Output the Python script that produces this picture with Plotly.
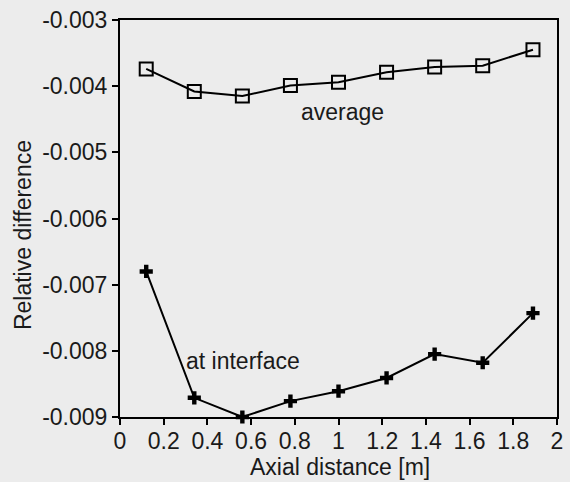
import plotly.graph_objects as go

# Data
axial_distance = [0.12, 0.34, 0.56, 0.78, 1.00, 1.22, 1.44, 1.66, 1.89]
average = [-0.00374, -0.00408, -0.00415, -0.00399, -0.00394, -0.00379, -0.00371, -0.00369, -0.00345]
at_interface = [-0.00680, -0.00871, -0.00900, -0.00876, -0.00861, -0.00841, -0.00805, -0.00818, -0.00743]

x_tickvals = [0, 0.2, 0.4, 0.6, 0.8, 1.0, 1.2, 1.4, 1.6, 1.8, 2.0]
x_ticktext = ["0", "0.2", "0.4", "0.6", "0.8", "1", "1.2", "1.4", "1.6", "1.8", "2"]
y_tickvals = [-0.009, -0.008, -0.007, -0.006, -0.005, -0.004, -0.003]
y_ticktext = ["-0.009", "-0.008", "-0.007", "-0.006", "-0.005", "-0.004", "-0.003"]

FONT = "Liberation Sans, Arial, Helvetica, sans-serif"
BG = "#ececec"
TXT = "#1a1a1a"

fig = go.Figure()
fig.add_trace(go.Scatter(
    x=axial_distance, y=average, mode="lines+markers",
    line=dict(color="black", width=2),
    marker=dict(symbol="square-open", size=13, color="black", line=dict(width=2, color="black")),
    cliponaxis=False, showlegend=False))
fig.add_trace(go.Scatter(
    x=axial_distance, y=at_interface, mode="lines+markers",
    line=dict(color="black", width=2),
    marker=dict(symbol="cross", size=11, color="black", line=dict(width=0)),
    cliponaxis=False, showlegend=False))

axis_common = dict(showgrid=False, zeroline=False, showline=True, linecolor="black",
                   linewidth=2, mirror=True, ticks="outside", ticklen=6, tickwidth=2,
                   tickcolor="black", tickfont=dict(family=FONT, size=23, color=TXT))

fig.update_xaxes(range=[0, 2], tickmode="array", tickvals=x_tickvals, ticktext=x_ticktext,
                 ticklabelstandoff=-4, **axis_common)
fig.update_yaxes(range=[-0.009, -0.003], tickmode="array", tickvals=y_tickvals, ticktext=y_ticktext,
                 **axis_common)

fig.add_annotation(x=1.02, y=-0.004395, text="average", showarrow=False,
                   xanchor="center", yanchor="middle", font=dict(family=FONT, size=23, color=TXT))
fig.add_annotation(x=0.292, y=-0.008161, text="at interface", showarrow=False,
                   xanchor="left", yanchor="middle", font=dict(family=FONT, size=23, color=TXT))
fig.add_annotation(xref="paper", yref="paper", x=0.503, y=-0.127, text="Axial distance [m]",
                   showarrow=False, xanchor="center", yanchor="middle",
                   font=dict(family=FONT, size=23, color=TXT))
fig.add_annotation(xref="paper", yref="paper", x=-0.2235, y=0.459, text="Relative difference",
                   textangle=-90, showarrow=False, xanchor="center", yanchor="middle",
                   font=dict(family=FONT, size=23, color=TXT))

fig.update_layout(width=570, height=482, margin=dict(l=120, r=7, t=14, b=65),
                  paper_bgcolor=BG, plot_bgcolor=BG, font=dict(family=FONT))

fig.write_html("out.html")
